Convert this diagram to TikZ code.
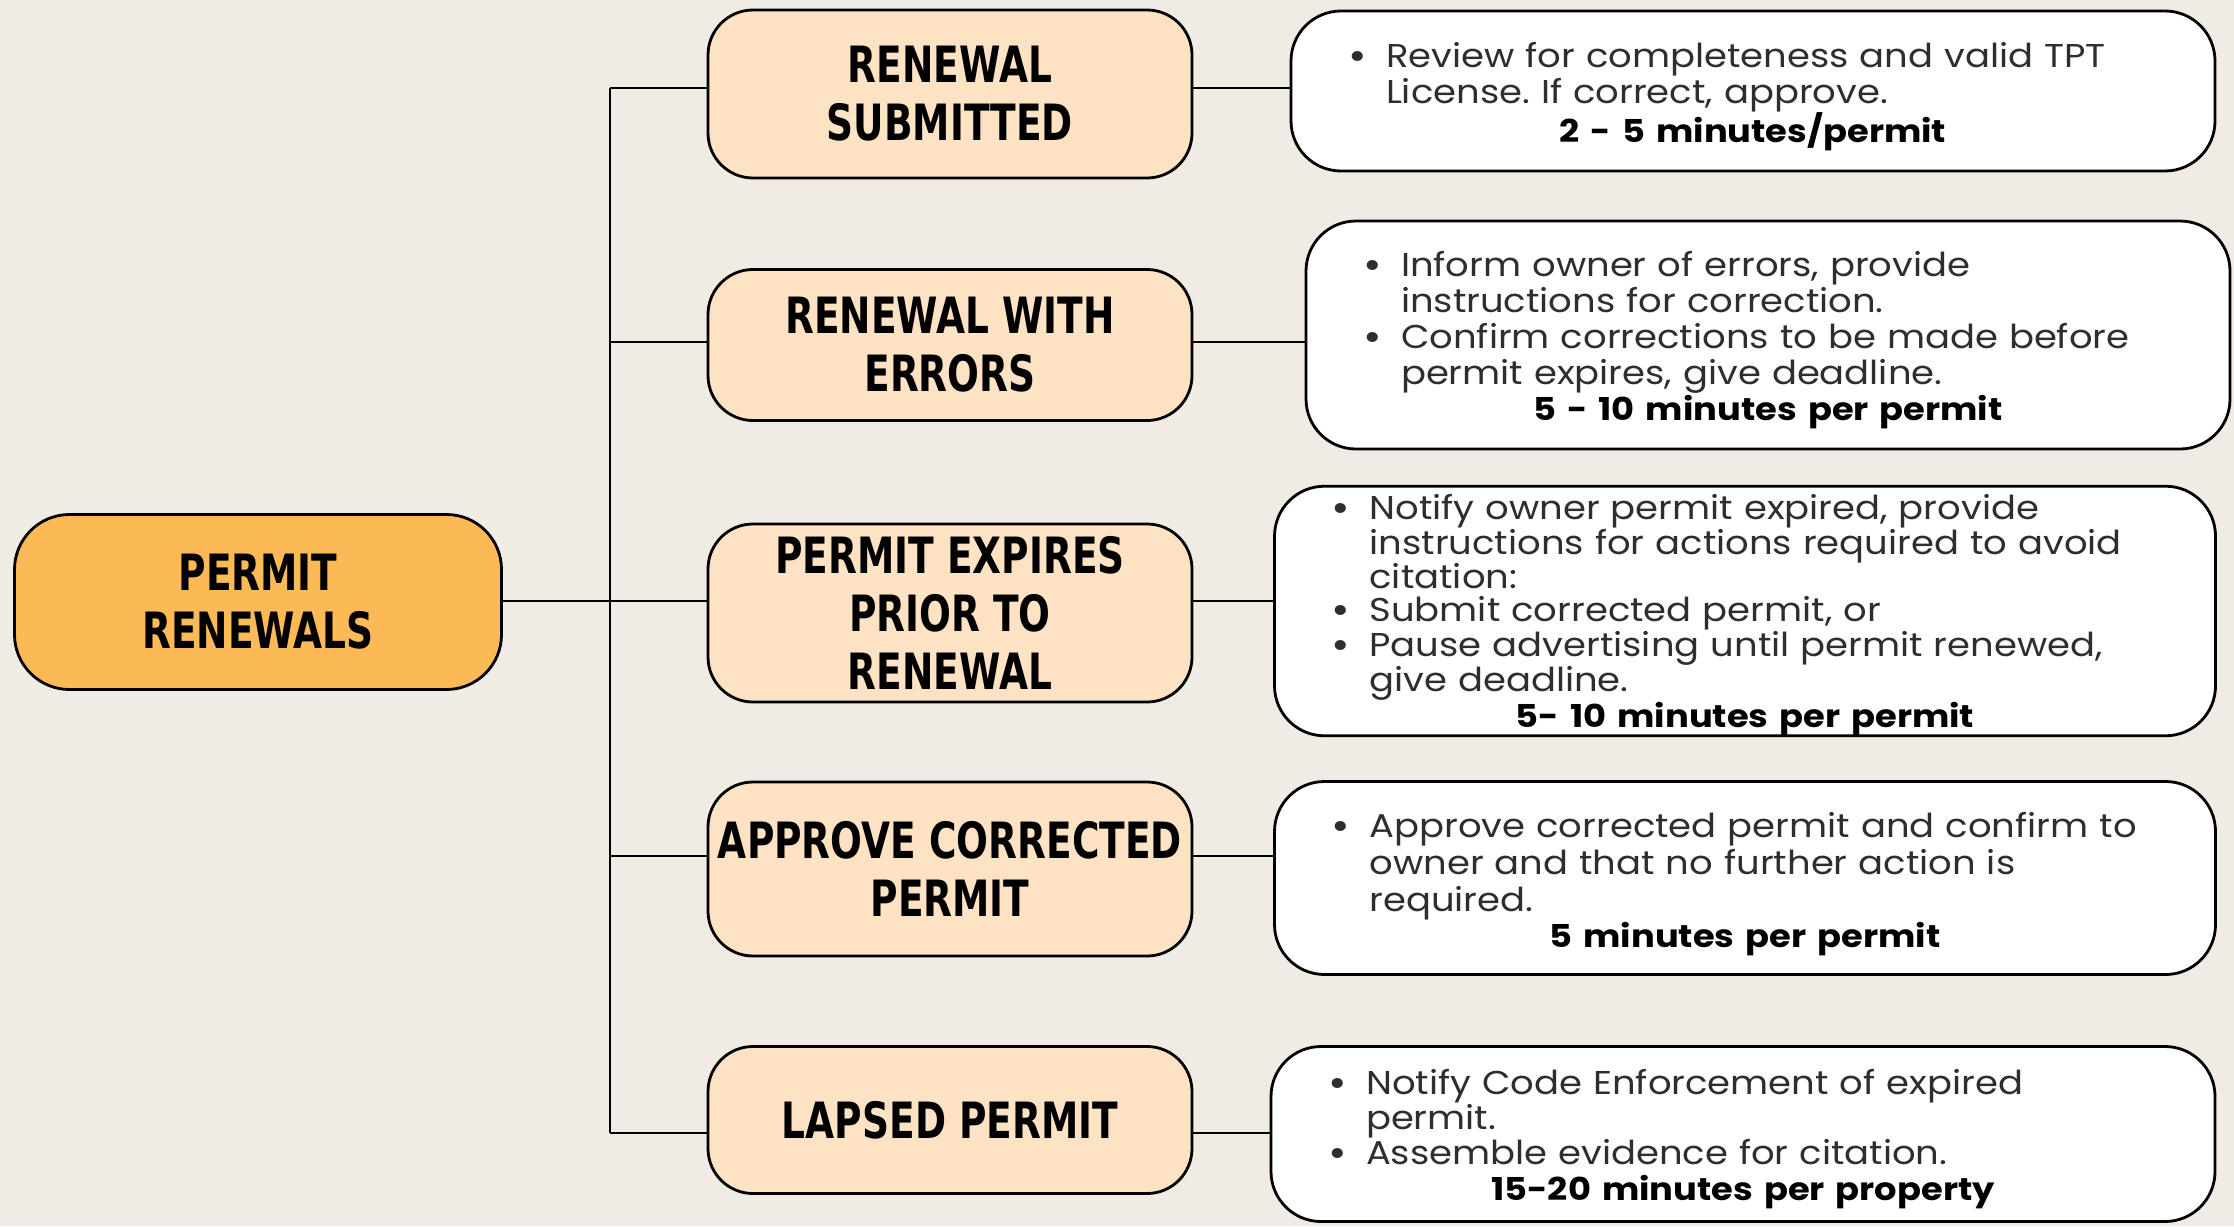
\documentclass[tikz,border=0pt]{standalone}
\usepackage{fontspec}
\setmainfont{Poppins}[FakeStretch=1.12]
\newfontfamily\headfont[FakeStretch=0.75]{DejaVu Sans}
\usetikzlibrary{positioning}
\frenchspacing
\definecolor{paper}{HTML}{F0EBE3}
\definecolor{rootfill}{HTML}{FCBA56}
\definecolor{stepfill}{HTML}{FDE3C4}
\definecolor{bodytext}{HTML}{2E2E2E}
\newcommand{\bitem}[1]{\par\noindent\hangindent=55pt\hangafter=1\makebox[55pt][l]{\hspace{17pt}{\bfseries\textbullet}}#1\par}
\newcommand{\tline}[1]{\par{\noindent\centering\bfseries\color{black}\fontsize{31.5}{36}\selectfont#1\par}}
\tikzstyle{rootbox}=[draw=black,line width=2.8pt,rounded corners=55pt,fill=rootfill,align=center,inner sep=0pt,font=\headfont\bfseries\fontsize{50}{58}\selectfont]
\tikzstyle{stepbox}=[draw=black,line width=2.8pt,rounded corners=45pt,fill=stepfill,align=center,inner sep=0pt,minimum width=484pt,font=\headfont\bfseries\fontsize{50}{58}\selectfont]
\tikzstyle{notebox}=[draw=black,line width=2.8pt,rounded corners=50pt,fill=white,align=left,inner xsep=40pt,inner ysep=0pt,text=bodytext,font=\fontsize{33}{36}\selectfont]
\tikzstyle{mainedge}=[line width=2.8pt]

\begin{document}
\begin{tikzpicture}[x=1pt,y=-1pt]
\fill[paper] (0,0) rectangle (2234,1226);
\useasboundingbox (0,0) rectangle (2234,1226);
% root
\node[rootbox,minimum width=487pt,minimum height=175pt] (n0) at (258,602) {PERMIT\\RENEWALS};
% trunk
\coordinate (t1) at (610,88);
\coordinate (t2) at (610,342);
\coordinate (t3) at (610,601);
\coordinate (t4) at (610,856);
\coordinate (t5) at (610,1133);
% 1st column
\node[stepbox,minimum height=168pt] (n1_1) at (950,94)   {RENEWAL\\SUBMITTED};
\node[stepbox,minimum height=151pt] (n1_2) at (950,345)  {RENEWAL WITH\\ERRORS};
\node[stepbox,minimum height=178pt] (n1_3) at (950,613)  {PERMIT EXPIRES\\PRIOR TO\\RENEWAL};
\node[stepbox,minimum height=174pt] (n1_4) at (950,869)  {APPROVE CORRECTED\\PERMIT};
\node[stepbox,minimum height=147pt] (n1_5) at (950,1120) {LAPSED PERMIT};
% 2nd column
\node[notebox,text width=844pt,minimum height=160pt] (n2_1) at (1753,91) {%
\bitem{Review for completeness and valid TPT\newline License. If correct, approve.}
\tline{2 - 5 minutes/permit}};
\node[notebox,text width=844pt,minimum height=228pt] (n2_2) at (1768,335) {%
\bitem{Inform owner of errors, provide\newline instructions for correction.}
\bitem{Confirm corrections to be made before\newline permit expires, give deadline.}
\tline{5 - 10 minutes per permit}};
\node[notebox,text width=861pt,minimum height=248pt,font=\fontsize{33}{33}\selectfont] (n2_3) at (1745,611) {%
\bitem{Notify owner permit expired, provide\newline instructions for actions required to avoid\newline citation:}
\bitem{Submit corrected permit, or}
\bitem{Pause advertising until permit renewed,\newline give deadline.}
\tline{5- 10 minutes per permit}};
\node[notebox,text width=861pt,minimum height=193pt,font=\fontsize{33}{37}\selectfont] (n2_4) at (1745,878) {%
\bitem{Approve corrected permit and confirm to\newline owner and that no further action is\newline required.}
\tline{5 minutes per permit}};
\node[notebox,text width=864pt,minimum height=175pt,font=\fontsize{33}{35}\selectfont] (n2_5) at (1743,1134) {%
\bitem{Notify Code Enforcement of expired\newline permit.}
\bitem{Assemble evidence for citation.}
\tline{15-20 minutes per property}};
% connectors
\draw[mainedge] (t1) -- (t5);
\draw[mainedge] (n0.east |- t3) -- (t3 -| n1_3.west);
\draw[mainedge] (t1) -- (t1 -| n1_1.west);
\draw[mainedge] (t2) -- (t2 -| n1_2.west);
\draw[mainedge] (t4) -- (t4 -| n1_4.west);
\draw[mainedge] (t5) -- (t5 -| n1_5.west);
\draw[mainedge] (n1_1.east |- t1) -- (t1 -| n2_1.west);
\draw[mainedge] (n1_2.east |- t2) -- (t2 -| n2_2.west);
\draw[mainedge] (n1_3.east |- t3) -- (t3 -| n2_3.west);
\draw[mainedge] (n1_4.east |- t4) -- (t4 -| n2_4.west);
\draw[mainedge] (n1_5.east |- t5) -- (t5 -| n2_5.west);
\end{tikzpicture}
\end{document}
